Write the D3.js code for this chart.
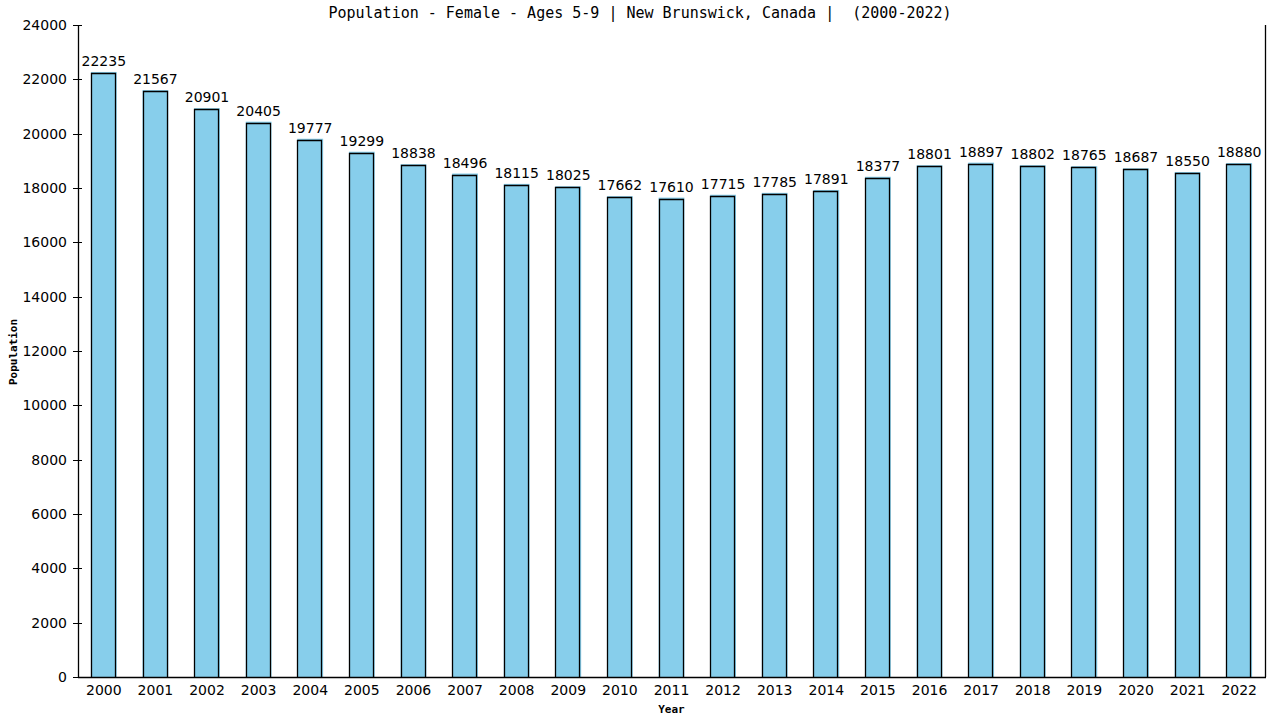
<!DOCTYPE html>
<html>
<head>
<meta charset="utf-8">
<script src="https://cdn.jsdelivr.net/npm/d3@7"></script>
<style>
  body { margin: 0; background: #fff; }
  text { fill: #000; }
</style>
</head>
<body>
<script>
// chart data
var years = ["2000","2001","2002","2003","2004","2005","2006","2007","2008","2009","2010","2011",
             "2012","2013","2014","2015","2016","2017","2018","2019","2020","2021","2022"];
var population = [22235, 21567, 20901, 20405, 19777, 19299, 18838, 18496, 18115, 18025, 17662, 17610,
                  17715, 17785, 17891, 18377, 18801, 18897, 18802, 18765, 18687, 18550, 18880];
var yTicks = [0, 2000, 4000, 6000, 8000, 10000, 12000, 14000, 16000, 18000, 20000, 22000, 24000];

var width   = 1280,
    height  = 720,
    plotL   = 78,
    plotR   = 1265,
    plotT   = 25,
    plotB   = 677;

var sans = "'DejaVu Sans', Verdana, sans-serif",
    mono = "'DejaVu Sans Mono', 'Liberation Mono', monospace";

var svg = d3.select("body").append("svg")
    .attr("width", width)
    .attr("height", height);

var x = d3.scaleBand()
    .domain(years)
    .range([plotL, plotR])
    .paddingInner(0.5)
    .paddingOuter(0.25);

var y = d3.scaleLinear()
    .domain([0, 24000])
    .range([plotB, plotT]);

// bars: blue fill, black outline nudged a pixel down/left
var bars = svg.selectAll("g.bar")
  .data(population)
  .enter().append("g")
    .attr("class", "bar");

bars.append("rect")
    .attr("x", function(d, i) { return x(years[i]); })
    .attr("y", function(d) { return y(d) - 1; })
    .attr("width", x.bandwidth())
    .attr("height", function(d) { return plotB - y(d) + 1; })
    .attr("fill", "#87ceeb");

bars.append("path")
    .attr("d", function(d, i) {
      var x0 = Math.round(x(years[i])) + 0.5,
          x1 = x0 + Math.round(x.bandwidth()) - 2,
          y0 = Math.round(y(d)) + 0.5;
      return "M" + x0 + "," + plotB + "V" + y0 + "H" + x1 + "V" + plotB;
    })
    .attr("fill", "none")
    .attr("stroke", "#000")
    .attr("stroke-width", 1.3);

bars.append("text")
    .attr("x", function(d, i) { return x(years[i]) + x.bandwidth() / 2; })
    .attr("y", function(d) { return y(d) - 7; })
    .attr("text-anchor", "middle")
    .style("font-family", sans)
    .style("font-size", "14px")
    .text(function(d) { return d; });

// y axis with ticks crossing the line
var yAxis = svg.append("g");
yAxis.append("line")
    .attr("x1", plotL + 0.5).attr("x2", plotL + 0.5)
    .attr("y1", plotT).attr("y2", plotB)
    .attr("stroke", "#000").attr("stroke-width", 1.3);

yAxis.selectAll("line.tick")
  .data(yTicks)
  .enter().append("line")
    .attr("class", "tick")
    .attr("x1", plotL - 5).attr("x2", plotL + 4)
    .attr("y1", function(d) { return Math.round(y(d)) + 0.5; })
    .attr("y2", function(d) { return Math.round(y(d)) + 0.5; })
    .attr("stroke", "#000");

yAxis.selectAll("text")
  .data(yTicks)
  .enter().append("text")
    .attr("x", plotL - 11)
    .attr("y", function(d) { return y(d) + 5; })
    .attr("text-anchor", "end")
    .style("font-family", sans)
    .style("font-size", "14px")
    .text(function(d) { return d; });

// bottom axis and right edge
svg.append("line")
    .attr("x1", plotL).attr("x2", plotR + 1)
    .attr("y1", plotB + 0.5).attr("y2", plotB + 0.5)
    .attr("stroke", "#000").attr("stroke-width", 1.3);

svg.append("line")
    .attr("x1", plotR + 0.5).attr("x2", plotR + 0.5)
    .attr("y1", plotT).attr("y2", plotB)
    .attr("stroke", "#000").attr("stroke-width", 1.3);

svg.selectAll("text.year")
  .data(years)
  .enter().append("text")
    .attr("class", "year")
    .attr("x", function(d) { return x(d) + x.bandwidth() / 2; })
    .attr("y", 695)
    .attr("text-anchor", "middle")
    .style("font-family", sans)
    .style("font-size", "14px")
    .text(function(d) { return d; });

// titles
svg.append("text")
    .attr("x", 640)
    .attr("y", 18)
    .attr("text-anchor", "middle")
    .style("font-family", mono)
    .style("font-size", "15px")
    .style("white-space", "pre")
    .attr("xml:space", "preserve")
    .text("Population - Female - Ages 5-9 | New Brunswick, Canada |  (2000-2022)");

svg.append("text")
    .attr("x", (plotL + plotR) / 2)
    .attr("y", 713)
    .attr("text-anchor", "middle")
    .style("font-family", mono)
    .style("font-size", "11px")
    .style("font-weight", "bold")
    .text("Year");

svg.append("text")
    .attr("transform", "translate(17,352) rotate(-90)")
    .attr("text-anchor", "middle")
    .style("font-family", mono)
    .style("font-size", "11px")
    .style("font-weight", "bold")
    .text("Population");
</script>
</body>
</html>
